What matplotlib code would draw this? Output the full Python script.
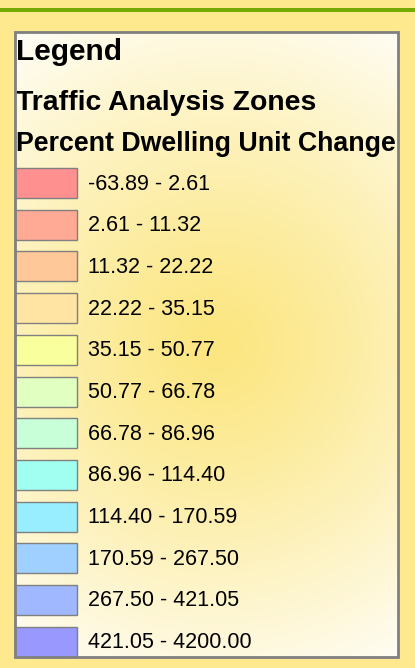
import numpy as np
import matplotlib.pyplot as plt
from matplotlib.patches import Rectangle

# Datos
titulo = "Legend"
capa = "Traffic Analysis Zones"
campo = "Percent Dwelling Unit Change"
rangos = ["-63.89 - 2.61", "2.61 - 11.32", "11.32 - 22.22", "22.22 - 35.15",
          "35.15 - 50.77", "50.77 - 66.78", "66.78 - 86.96", "86.96 - 114.40",
          "114.40 - 170.59", "170.59 - 267.50", "267.50 - 421.05",
          "421.05 - 4200.00"]
colores = ["#FF9090", "#FFAA94", "#FFC898", "#FFE4A4", "#F8FF9C", "#E0FFC0",
           "#C8FFD8", "#A0FFF0", "#98EEFF", "#A0D0FF", "#A0B8FF", "#9898FF"]

W, H = 415, 668
fig = plt.figure(figsize=(W / 100, H / 100), dpi=100)
fig.patch.set_facecolor("#FFE98F")
ax = fig.add_axes([0, 0, 1, 1])
ax.set_xlim(0, W)
ax.set_ylim(H, 0)
ax.axis("off")

# Linea verde superior
ax.add_patch(Rectangle((0, 8), W, 4, color="#77AA00", lw=0))

# Panel con degradado radial
x0, x1, y0, y1 = 15, 398, 32, 657
xx, yy = np.meshgrid(np.arange(x0, x1), np.arange(y0, y1))
d = np.sqrt((xx - 215) ** 2 + (yy - 345) ** 2)
t = np.clip(d / 390, 0, 1) ** 1.2
centro = np.array([252, 230, 128]) / 255
img = centro[None, None, :] * (1 - t[..., None]) + t[..., None]
ax.imshow(img, extent=(x0, x1, y1, y0), aspect="auto", zorder=1)
ax.add_patch(Rectangle((x0, y0), x1 - x0, y1 - y0, fill=False,
                       ec="#808080", lw=2, zorder=5))

# Titulos
ax.text(16, 60, titulo, fontsize=21.5, fontweight="bold",
        family="Liberation Sans", zorder=3)
ax.text(16, 110, capa, fontsize=20.4, fontweight="bold",
        family="Liberation Sans", zorder=3)
ax.text(16, 151, campo, fontsize=19.3, fontweight="bold",
        family="Liberation Sans", zorder=3)

# Muestras de color
ys = 183 + 41.7 * np.arange(len(rangos))
ax.barh(ys, 62, height=30, left=15, color=colores, edgecolor="#808080",
        linewidth=1, zorder=3)
for y, r in zip(ys, rangos):
    ax.text(88, y + 1, r, fontsize=15.5, va="center",
            family="Liberation Sans", zorder=3)

fig.savefig("out.png", dpi=100, facecolor=fig.get_facecolor())
